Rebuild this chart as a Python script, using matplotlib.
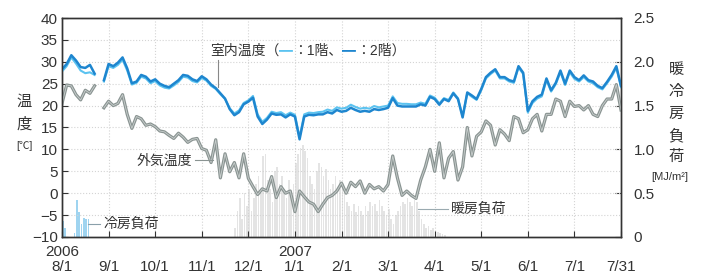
import numpy as np
import matplotlib
matplotlib.use("Agg")
import matplotlib.pyplot as plt
from matplotlib.offsetbox import TextArea, HPacker, AnnotationBbox

plt.rcParams['font.family'] = ['Liberation Sans', 'Noto Sans CJK JP', 'DejaVu Sans']
plt.rcParams['axes.unicode_minus'] = True

# x axis: months from 2006-08-01, sampled every 0.1 month
month_labels = ['8/1', '9/1', '10/1', '11/1', '12/1', '1/1', '2/1',
                '3/1', '4/1', '5/1', '6/1', '7/1', '7/31']
year_labels = [(0, '2006'), (5, '2007')]

nan = np.nan
indoor_2f = [
    28.3, 29.5, 31.5, 30.3, 28.8, 28.6, 29.3, 27.3, nan, 25.8,
    29.5, 29.0, 29.8, 31.0, 28.5, 25.1, 25.5, 27.0, 26.6, 25.5,
    26.0, 25.0, 24.5, 24.2, 25.0, 25.8, 27.0, 26.8, 26.0, 25.6,
    26.7, 26.0, 24.8, 24.0, 22.8, 21.6, 19.2, 17.8, 18.5, 20.3,
    20.9, 21.8, 17.5, 15.8, 16.8, 18.2, 17.9, 18.0, 17.3, 18.0,
    17.5, 12.3, 17.5, 17.9, 17.8, 18.0, 18.0, 18.5, 18.2, 19.0,
    18.6, 18.8, 19.5, 19.0, 18.6, 18.8, 18.6, 19.2, 19.0, 19.2,
    19.5, 21.7, 20.0, 19.8, 19.8, 19.8, 19.8, 20.3, 20.0, 22.0,
    21.5, 20.2, 21.5, 21.0, 22.8, 21.5, 17.3, 23.0, 22.3, 21.5,
    23.8, 26.5, 27.5, 28.3, 26.5, 26.5, 25.8, 25.5, 29.0, 27.5,
    18.8, 21.0, 22.0, 22.5, 26.2, 23.5, 25.2, 28.0, 25.0, 28.0,
    26.5, 25.8, 26.9, 25.8, 25.5, 24.5, 24.0, 25.4, 27.0, 29.0,
    24.5]
indoor_1f = [
    27.8, 29.0, 31.0, 29.6, 28.0, 27.4, 27.6, 27.0, nan, 25.5,
    29.0, 28.6, 29.3, 30.5, 28.0, 24.8, 25.2, 26.6, 26.2, 25.1,
    25.6, 24.6, 24.1, 23.9, 24.6, 25.4, 26.6, 26.4, 25.6, 25.3,
    26.3, 25.7, 24.5, 23.8, 22.6, 21.5, 19.4, 18.2, 18.9, 20.6,
    21.2, 22.2, 18.0, 16.3, 17.2, 18.6, 18.3, 18.5, 17.8, 18.4,
    17.9, 12.8, 18.0, 18.4, 18.3, 18.5, 18.6, 19.1, 18.8, 19.6,
    19.3, 19.5, 20.2, 19.7, 19.3, 19.5, 19.3, 19.9, 19.6, 19.8,
    20.0, 22.1, 20.6, 20.4, 20.4, 20.3, 20.3, 20.7, 20.4, 22.3,
    21.8, 20.5, 21.7, 21.3, 23.0, 21.7, 17.6, 22.8, 22.0, 21.3,
    23.5, 26.2, 27.2, 28.0, 26.2, 26.2, 25.5, 25.2, 28.7, 27.2,
    18.4, 20.6, 21.6, 22.1, 25.8, 23.2, 24.9, 27.6, 24.7, 27.6,
    26.1, 25.5, 26.5, 25.5, 25.1, 24.2, 23.7, 25.1, 26.6, 28.6,
    24.2]
outdoor = [
    20.5, 24.7, 24.5, 22.5, 21.3, 23.5, 22.8, 24.5, nan, 19.5,
    21.0, 20.0, 20.5, 22.5, 18.0, 14.8, 17.5, 17.0, 15.5, 15.8,
    15.2, 14.2, 14.0, 13.2, 12.5, 13.7, 12.8, 11.6, 12.3, 12.5,
    10.2, 9.8, 7.0, 12.2, 3.5, 9.0, 4.9, 7.0, 3.5, 9.0,
    3.4, 1.5, -0.3, 1.0, 0.5, 3.8, -1.0, 1.5, 0.0, 0.5,
    -4.2, 0.5, -0.8, -2.0, -2.5, -4.2, -2.5, -1.0, -0.5, 0.5,
    2.3, 0.0, 2.5, 1.5, 2.8, 0.0, 2.0, 1.0, 1.5, 0.5,
    2.0, 8.5, 3.5, -0.5, 0.5, -0.5, -1.2, 3.0, 6.0, 10.0,
    5.0, 11.5, 3.5, 8.0, 9.5, 3.0, 6.0, 15.0, 8.5, 13.0,
    14.0, 16.5, 15.5, 11.0, 14.5, 13.5, 12.0, 17.5, 17.0, 13.8,
    14.5, 17.0, 18.0, 14.2, 18.0, 18.0, 21.5, 21.0, 17.5, 21.0,
    19.8, 20.0, 19.0, 20.0, 18.0, 17.5, 20.0, 21.5, 21.5, 24.8,
    19.0]

# loads [MJ/m2], sampled every 0.05 month
heat_start = 3.70
heating_load = [
    0.10, 0.30, 0.45, 0.20, 0.50, 0.35, 0.55, 0.30, 0.45, 0.60,
    0.70, 0.50, 0.92, 0.95, 0.65, 0.55, 0.40, 0.75, 0.80, 0.60,
    0.70, 0.55, 0.45, 0.65, 0.50, 0.60, 0.85, 0.95, 1.02, 1.05,
    0.98, 0.90, 0.70, 0.60, 0.55, 0.75, 0.85, 0.80, 0.70, 0.78,
    0.65, 0.55, 0.60, 0.70, 0.55, 0.65, 0.60, 0.50, 0.40, 0.35,
    0.30, 0.38, 0.28, 0.35, 0.30, 0.25, 0.35, 0.30, 0.40, 0.35,
    0.38, 0.30, 0.42, 0.35, 0.30, 0.25, 0.32, 0.20, 0.15, 0.25,
    0.30, 0.35, 0.40, 0.38, 0.45, 0.40, 0.35, 0.42, 0.40, 0.30,
    0.20, 0.15, 0.10, 0.12, 0.08, 0.10, 0.05, 0.06, 0.04, 0.03,
    0.02]
cool_start = 0.0
cooling_load = [0.18, 0.10, 0.0, 0.0, 0.0, 0.05, 0.42, 0.28, 0.15,
                0.22, 0.21, 0.20, 0.0]

W, H = 707, 277


def fpos(x, y):
    return x / W, 1 - y / H


x = np.linspace(0, 12, len(outdoor))
xh = heat_start + 0.05 * np.arange(len(heating_load))
xc = cool_start + 0.05 * np.arange(len(cooling_load))

fig = plt.figure(figsize=(W / 100, H / 100), dpi=100)
ax = fig.add_axes([62 / W, 1 - 237 / H, (621 - 62) / W, (237 - 18) / H])
ax2 = ax.twinx()
ax.set_zorder(ax2.get_zorder() + 1)
ax.patch.set_visible(False)

ax2.bar(xh, heating_load, width=0.035, color='#e4e4e4', align='edge', linewidth=0)
ax2.bar(xc, cooling_load, width=0.035, color='#9fd4f0', align='edge', linewidth=0)

ax.plot(x, outdoor, color='#8a9492', lw=2.3, solid_joinstyle='round')
ax.plot(x, outdoor, color='#c9cfce', lw=0.6)
ax.plot(x, indoor_1f, color='#5cc3f0', lw=1.5)
ax.plot(x, indoor_2f, color='#1e86cf', lw=1.8)

ax.set_xlim(0, 12)
ax.set_ylim(-10, 40)
ax2.set_ylim(0, 2.5)
ax.set_yticks(range(-10, 41, 5))
ax.set_xticks(range(13))
ax.set_xticklabels(month_labels)
ax2.set_yticks([0, 0.5, 1.0, 1.5, 2.0, 2.5])
ax2.set_yticklabels(['0', '0.5', '1.0', '1.5', '2.0', '2.5'])

ax.grid(True, color='#d4d4d4', linestyle=':', linewidth=0.8)
for a in (ax, ax2):
    for s in a.spines.values():
        s.set_color('#333333')
        s.set_linewidth(1.0)
ax.tick_params(axis='y', direction='in', length=4, pad=3, labelsize=11,
               colors='#333333')
ax.tick_params(axis='x', direction='in', length=4, pad=16.5, labelsize=11,
               colors='#333333')
ax2.tick_params(axis='y', direction='in', length=4, pad=9, labelsize=11,
                colors='#333333')

for xi, yl in year_labels:
    ax.annotate(yl, xy=(xi, 0), xycoords=('data', 'axes fraction'),
                xytext=(0, -5.5), textcoords='offset points',
                ha='center', va='top', fontsize=11, color='#333333')

tc = '#333333'
# axis titles
for ch, yy in zip('温度', [102, 124]):
    fig.text(*fpos(24, yy), ch, ha='center', va='center', fontsize=11, color=tc)
fig.text(*fpos(24, 146), '[℃]', ha='center', va='center', fontsize=7.5, color=tc)
for ch, yy in zip('暖冷房負荷', [70, 92, 114, 136, 157]):
    fig.text(*fpos(676, yy), ch, ha='center', va='center', fontsize=11, color=tc)
fig.text(*fpos(670, 177), '[MJ/m²]', ha='center', va='center', fontsize=8, color=tc)

# annotations
parts = [('室内温度（', tc), ('━', '#5cc3f0'), ('：1階、', tc),
         ('━', '#1e86cf'), ('：2階）', tc)]
box = HPacker(children=[TextArea(t, textprops=dict(color=c, fontsize=10))
                        for t, c in parts], align='center', pad=0, sep=0)
ab = AnnotationBbox(box, fpos(210, 51), xycoords='figure fraction',
                    box_alignment=(0, 0.5), frameon=False, pad=0)
fig.add_artist(ab)
ax.plot([3.35, 3.35], [24.2, 30.3], color='#888888', lw=0.8)

fig.text(*fpos(192, 161), '外気温度', ha='right', va='center', fontsize=10, color=tc)
ax.plot([2.85, 3.24], [7.6, 7.6], color='#8a9492', lw=0.8)
fig.text(*fpos(103, 224), '冷房負荷', ha='left', va='center', fontsize=10, color=tc)
ax.plot([0.56, 0.82], [-7.1, -7.1], color='#8aa0aa', lw=0.8)
fig.text(*fpos(451, 209), '暖房負荷', ha='left', va='center', fontsize=10, color=tc)
ax.plot([7.64, 8.28], [-3.5, -3.5], color='#9aaab0', lw=0.8)

fig.savefig('out.png', dpi=100)
